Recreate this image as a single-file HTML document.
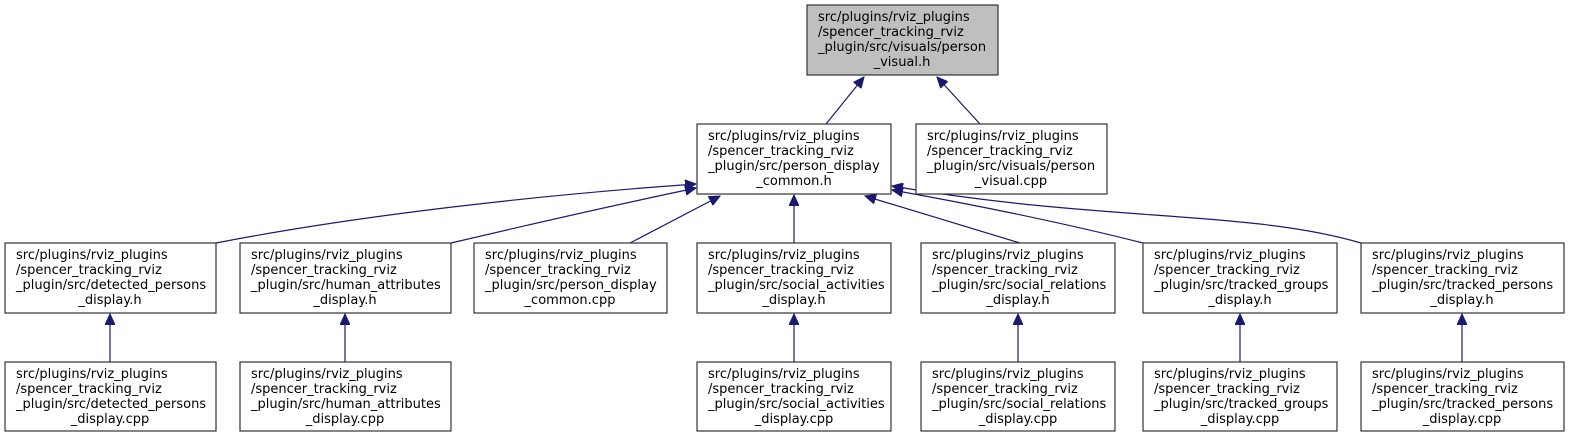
<!DOCTYPE html>
<html><head><meta charset="utf-8"><style>
html,body{margin:0;padding:0;background:#fff;}
svg{display:block;}
text{font-family:"DejaVu Sans","Liberation Sans",sans-serif;font-size:13px;fill:#000;}
.b{fill:#fff;stroke:#333;stroke-width:1.2;}
.e{fill:none;stroke:#191970;stroke-width:1.2;}
</style></head><body>
<svg width="1569" height="437" viewBox="0 0 1569 437" xmlns="http://www.w3.org/2000/svg">
<defs>
<marker id="a" markerWidth="12" markerHeight="10" refX="11" refY="5" orient="auto" markerUnits="userSpaceOnUse">
<path d="M0,0 L11,5 L0,10 z" fill="#191970" stroke="#191970"/>
</marker>
</defs>

<path class="e" marker-end="url(#a)" d="M826,124 L864,77"/>
<path class="e" marker-end="url(#a)" d="M980,124 L937,77"/>
<path class="e" marker-end="url(#a)" d="M216,243 C360,215 540,195 696,184"/>
<path class="e" marker-end="url(#a)" d="M451,243 C540,222 620,204 696,188"/>
<path class="e" marker-end="url(#a)" d="M630,243 L720,196"/>
<path class="e" marker-end="url(#a)" d="M794,243 L794,195"/>
<path class="e" marker-end="url(#a)" d="M1020,243 L865,196"/>
<path class="e" marker-end="url(#a)" d="M1143,243 C1060,222 970,204 892,190"/>
<path class="e" marker-end="url(#a)" d="M1361,243 C1250,210 1100,222 892,186"/>
<path class="e" marker-end="url(#a)" d="M110,362 L110,314"/>
<path class="e" marker-end="url(#a)" d="M345,362 L345,314"/>
<path class="e" marker-end="url(#a)" d="M794,362 L794,314"/>
<path class="e" marker-end="url(#a)" d="M1018,362 L1018,314"/>
<path class="e" marker-end="url(#a)" d="M1240,362 L1240,314"/>
<path class="e" marker-end="url(#a)" d="M1462,362 L1462,314"/>

<rect x="807" y="5" width="191" height="70" fill="#bfbfbf" stroke="#333" stroke-width="1.2"/>
<text x="818" y="21">src/plugins/rviz_plugins</text>
<text x="818" y="36">/spencer_tracking_rviz</text>
<text x="818" y="51">_plugin/src/visuals/person</text>
<text x="902" y="66" text-anchor="middle">_visual.h</text>

<rect class="b" x="697" y="124" width="194" height="70"/>
<text x="708" y="140">src/plugins/rviz_plugins</text>
<text x="708" y="155">/spencer_tracking_rviz</text>
<text x="708" y="170">_plugin/src/person_display</text>
<text x="794" y="185" text-anchor="middle">_common.h</text>

<rect class="b" x="916" y="124" width="191" height="70"/>
<text x="927" y="140">src/plugins/rviz_plugins</text>
<text x="927" y="155">/spencer_tracking_rviz</text>
<text x="927" y="170">_plugin/src/visuals/person</text>
<text x="1011" y="185" text-anchor="middle">_visual.cpp</text>

<rect class="b" x="5" y="243" width="211" height="70"/>
<text x="16" y="259">src/plugins/rviz_plugins</text>
<text x="16" y="274">/spencer_tracking_rviz</text>
<text x="16" y="289">_plugin/src/detected_persons</text>
<text x="110" y="304" text-anchor="middle">_display.h</text>

<rect class="b" x="240" y="243" width="211" height="70"/>
<text x="251" y="259">src/plugins/rviz_plugins</text>
<text x="251" y="274">/spencer_tracking_rviz</text>
<text x="251" y="289">_plugin/src/human_attributes</text>
<text x="345" y="304" text-anchor="middle">_display.h</text>

<rect class="b" x="474" y="243" width="193" height="70"/>
<text x="485" y="259">src/plugins/rviz_plugins</text>
<text x="485" y="274">/spencer_tracking_rviz</text>
<text x="485" y="289">_plugin/src/person_display</text>
<text x="570" y="304" text-anchor="middle">_common.cpp</text>

<rect class="b" x="697" y="243" width="194" height="70"/>
<text x="708" y="259">src/plugins/rviz_plugins</text>
<text x="708" y="274">/spencer_tracking_rviz</text>
<text x="708" y="289">_plugin/src/social_activities</text>
<text x="794" y="304" text-anchor="middle">_display.h</text>

<rect class="b" x="921" y="243" width="194" height="70"/>
<text x="932" y="259">src/plugins/rviz_plugins</text>
<text x="932" y="274">/spencer_tracking_rviz</text>
<text x="932" y="289">_plugin/src/social_relations</text>
<text x="1018" y="304" text-anchor="middle">_display.h</text>

<rect class="b" x="1143" y="243" width="194" height="70"/>
<text x="1154" y="259">src/plugins/rviz_plugins</text>
<text x="1154" y="274">/spencer_tracking_rviz</text>
<text x="1154" y="289">_plugin/src/tracked_groups</text>
<text x="1240" y="304" text-anchor="middle">_display.h</text>

<rect class="b" x="1361" y="243" width="203" height="70"/>
<text x="1372" y="259">src/plugins/rviz_plugins</text>
<text x="1372" y="274">/spencer_tracking_rviz</text>
<text x="1372" y="289">_plugin/src/tracked_persons</text>
<text x="1462" y="304" text-anchor="middle">_display.h</text>

<rect class="b" x="5" y="362" width="211" height="69"/>
<text x="16" y="378">src/plugins/rviz_plugins</text>
<text x="16" y="393">/spencer_tracking_rviz</text>
<text x="16" y="408">_plugin/src/detected_persons</text>
<text x="110" y="423" text-anchor="middle">_display.cpp</text>

<rect class="b" x="240" y="362" width="211" height="69"/>
<text x="251" y="378">src/plugins/rviz_plugins</text>
<text x="251" y="393">/spencer_tracking_rviz</text>
<text x="251" y="408">_plugin/src/human_attributes</text>
<text x="345" y="423" text-anchor="middle">_display.cpp</text>

<rect class="b" x="697" y="362" width="194" height="69"/>
<text x="708" y="378">src/plugins/rviz_plugins</text>
<text x="708" y="393">/spencer_tracking_rviz</text>
<text x="708" y="408">_plugin/src/social_activities</text>
<text x="794" y="423" text-anchor="middle">_display.cpp</text>

<rect class="b" x="921" y="362" width="194" height="69"/>
<text x="932" y="378">src/plugins/rviz_plugins</text>
<text x="932" y="393">/spencer_tracking_rviz</text>
<text x="932" y="408">_plugin/src/social_relations</text>
<text x="1018" y="423" text-anchor="middle">_display.cpp</text>

<rect class="b" x="1143" y="362" width="194" height="69"/>
<text x="1154" y="378">src/plugins/rviz_plugins</text>
<text x="1154" y="393">/spencer_tracking_rviz</text>
<text x="1154" y="408">_plugin/src/tracked_groups</text>
<text x="1240" y="423" text-anchor="middle">_display.cpp</text>

<rect class="b" x="1361" y="362" width="203" height="69"/>
<text x="1372" y="378">src/plugins/rviz_plugins</text>
<text x="1372" y="393">/spencer_tracking_rviz</text>
<text x="1372" y="408">_plugin/src/tracked_persons</text>
<text x="1462" y="423" text-anchor="middle">_display.cpp</text>
</svg>
</body></html>
